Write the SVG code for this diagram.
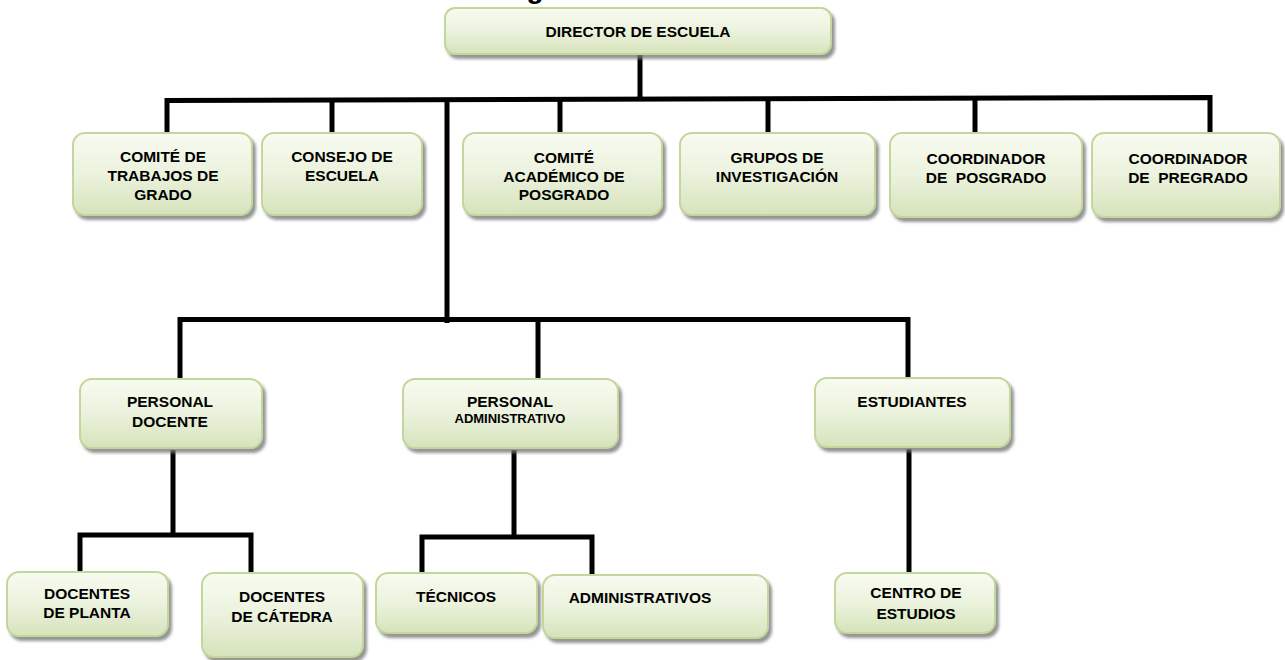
<svg xmlns="http://www.w3.org/2000/svg" width="1285" height="660" viewBox="0 0 1285 660">
  <style>
    .box { fill: url(#boxFill); stroke: #c3d69b; stroke-width: 2; filter: url(#shadow); }
    .t { font-family: "Liberation Sans", Arial, sans-serif; font-weight: bold; font-size: 15.5px; fill: #000; text-anchor: middle; }
    .ts { font-size: 13px; }
    .conn { fill: none; stroke: #000; stroke-width: 5; stroke-linejoin: miter; stroke-linecap: butt; }
  </style>
  <defs>
    <linearGradient id="boxFill" x1="0" y1="0" x2="0" y2="1">
      <stop offset="0" stop-color="#f8fbf1"/>
      <stop offset="0.5" stop-color="#ebf2dd"/>
      <stop offset="1" stop-color="#d6e3bb"/>
    </linearGradient>
    <filter id="shadow" x="-10%" y="-10%" width="130%" height="140%">
      <feDropShadow dx="3" dy="4" stdDeviation="1.5" flood-color="#7a7a7a" flood-opacity="0.8"/>
    </filter>
  </defs>
  <rect width="1285" height="660" fill="#ffffff"/>

  <text class="t" x="535" y="-2" style="font-size:28px">g</text>

  <g id="connectors">
    <path class="conn" d="M640,55 V99"/>
    <path class="conn" d="M167,133 V100.5 L1210,97.5 V133"/>
    <path class="conn" d="M332,100 V133"/>
    <path class="conn" d="M560,99 V133"/>
    <path class="conn" d="M768,99 V133"/>
    <path class="conn" d="M975,98 V133"/>
    <path class="conn" d="M447,99.5 V323"/>
    <path class="conn" d="M180,379 V319.5 H908 V378"/>
    <path class="conn" d="M538,319.5 V379"/>
    <path class="conn" d="M173,450 V535"/>
    <path class="conn" d="M80,572 V535 H251 V572"/>
    <path class="conn" d="M514,450 V537"/>
    <path class="conn" d="M422,573 V537 H592 V575"/>
    <path class="conn" d="M909,449 V573"/>
  </g>

  <g id="director">
    <rect class="box" x="445" y="8" width="386" height="46" rx="10"/>
    <text class="t" x="638" y="37">DIRECTOR DE ESCUELA</text>
  </g>
  <g id="comite-trabajos">
    <rect class="box" x="73" y="133" width="179" height="82" rx="12"/>
    <text class="t" x="163" y="162">COMITÉ DE</text>
    <text class="t" x="163" y="181">TRABAJOS DE</text>
    <text class="t" x="163" y="200">GRADO</text>
  </g>
  <g id="consejo">
    <rect class="box" x="262" y="133" width="160" height="82" rx="12"/>
    <text class="t" x="342" y="162">CONSEJO DE</text>
    <text class="t" x="342" y="181">ESCUELA</text>
  </g>
  <g id="comite-academico">
    <rect class="box" x="463" y="133" width="199" height="82" rx="12"/>
    <text class="t" x="564" y="163">COMITÉ</text>
    <text class="t" x="564" y="182">ACADÉMICO DE</text>
    <text class="t" x="564" y="200">POSGRADO</text>
  </g>
  <g id="grupos">
    <rect class="box" x="680" y="133" width="195" height="82" rx="12"/>
    <text class="t" x="777" y="163">GRUPOS DE</text>
    <text class="t" x="777" y="182">INVESTIGACIÓN</text>
  </g>
  <g id="coord-posgrado">
    <rect class="box" x="890" y="133" width="192" height="84" rx="12"/>
    <text class="t" x="986" y="164">COORDINADOR</text>
    <text class="t" x="986" y="183" xml:space="preserve">DE  POSGRADO</text>
  </g>
  <g id="coord-pregrado">
    <rect class="box" x="1092" y="133" width="188" height="84" rx="12"/>
    <text class="t" x="1188" y="164">COORDINADOR</text>
    <text class="t" x="1188" y="183" xml:space="preserve">DE  PREGRADO</text>
  </g>
  <g id="personal-docente">
    <rect class="box" x="80" y="379" width="182" height="69" rx="12"/>
    <text class="t" x="170" y="407">PERSONAL</text>
    <text class="t" x="170" y="427">DOCENTE</text>
  </g>
  <g id="personal-administrativo">
    <rect class="box" x="403" y="379" width="215" height="69" rx="12"/>
    <text class="t" x="510" y="407">PERSONAL</text>
    <text class="t ts" x="510" y="423">ADMINISTRATIVO</text>
  </g>
  <g id="estudiantes">
    <rect class="box" x="815" y="378" width="195" height="69" rx="12"/>
    <text class="t" x="912" y="407">ESTUDIANTES</text>
  </g>
  <g id="docentes-planta">
    <rect class="box" x="7" y="572" width="161" height="64" rx="12"/>
    <text class="t" x="87" y="599">DOCENTES</text>
    <text class="t" x="87" y="618">DE PLANTA</text>
  </g>
  <g id="docentes-catedra">
    <rect class="box" x="202" y="573" width="161" height="84" rx="12"/>
    <text class="t" x="282" y="602">DOCENTES</text>
    <text class="t" x="282" y="622">DE CÁTEDRA</text>
  </g>
  <g id="tecnicos">
    <rect class="box" x="376" y="573" width="161" height="60" rx="12"/>
    <text class="t" x="456" y="602">TÉCNICOS</text>
  </g>
  <g id="administrativos">
    <rect class="box" x="543" y="575" width="225" height="63" rx="12"/>
    <text class="t" x="640" y="603">ADMINISTRATIVOS</text>
  </g>
  <g id="centro-estudios">
    <rect class="box" x="835" y="573" width="160" height="60" rx="12"/>
    <text class="t" x="916" y="598">CENTRO DE</text>
    <text class="t" x="916" y="619">ESTUDIOS</text>
  </g>
</svg>
